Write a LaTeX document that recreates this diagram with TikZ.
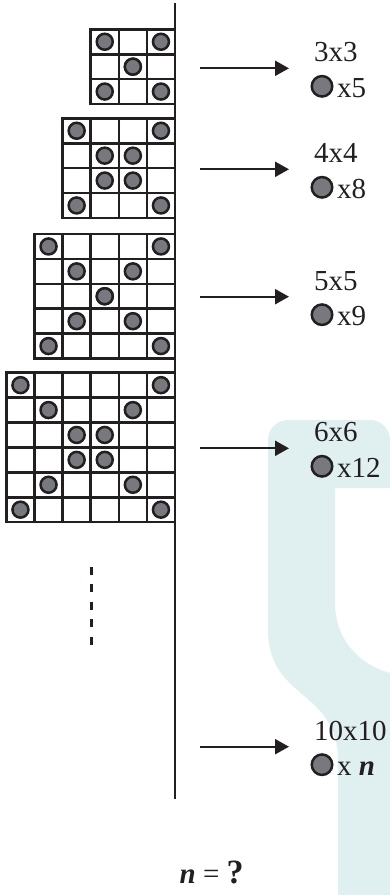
\documentclass[tikz,border=0pt]{standalone}
\usepackage{fontspec}
\setmainfont{Liberation Serif}
\usetikzlibrary{arrows.meta}
\begin{document}
\begin{tikzpicture}[x=1pt,y=-1pt]
  \definecolor{ink}{RGB}{35,31,32}
  \definecolor{tokengray}{RGB}{120,121,126}
  \definecolor{watermark}{RGB}{224,240,240}
  \tikzset{
    cell/.style={draw=ink,line width=2.6pt},
    token/.style={draw=ink,fill=tokengray,line width=2.5pt},
    dot/.style={circle,draw=ink,fill=tokengray,line width=2.5pt,minimum size=20.5pt,inner sep=0pt},
    lab/.style={anchor=base west,inner sep=0pt,text=ink,font=\fontsize{29}{34}\selectfont},
    arr/.style={draw=ink,line width=2.3pt,-{Triangle[length=14pt,width=15pt]}},
  }
  \useasboundingbox (0,0) rectangle (390,895);
  \fill[watermark] (268,630) [rounded corners=20pt] -- (268,420) -- (390,420) [sharp corners] -- (390,488) -- (335,488) -- (335,603)
    .. controls (335,640) and (360,665) .. (390,673) -- (390,895) -- (338,895) -- (338,760)
    .. controls (338,690) and (268,700) .. (268,630) -- cycle;
  \foreach \n/\top in {3/29.3, 4/118.3, 5/234, 6/372.7} {
    \foreach \i in {1,...,\n} {
      \foreach \j in {1,...,\n} {
        \draw[cell] ({175-(\n-\i+1)*28.1},{\top+(\j-1)*24.9}) rectangle ++(28.1,24.9);
      }
      \draw[token] ({175-(\n-\i+0.5)*28.1},{\top+(\i-0.5)*24.9}) circle (8);
      \draw[token] ({175-(\n-\i+0.5)*28.1},{\top+(\n-\i+0.5)*24.9}) circle (8);
    }
  }
  \draw[ink,line width=2.5pt] (175,3) -- (175,799);
  \draw[ink,line width=2.5pt,dash pattern=on 8pt off 9.5pt] (91.3,566.7) -- (91.3,645);
  \foreach \n/\ay/\cnt in {3/68.3/5, 4/169.3/8, 5/296.7/9, 6/448.3/12, 10/746.7/{~\textbf{\textit{n}}}} {
    \coordinate (from\n) at (200,\ay);
    \coordinate (to\n) at (289,\ay);
    \draw[arr] (from\n) -- (to\n);
    \node[lab] (size\n) at (314,{\ay-6.7}) {\n x\n};
    \node[dot] (dot\n) at (322,{\ay+18}) {};
    \node[lab] (count\n) at (337,{\ay+29}) {x\cnt};
  }
  \node[lab,anchor=base] (ask) at (211.7,883) {\textbf{\textit{n}} = {\fontsize{34}{40}\selectfont\textbf{?}}};
\end{tikzpicture}
\end{document}
